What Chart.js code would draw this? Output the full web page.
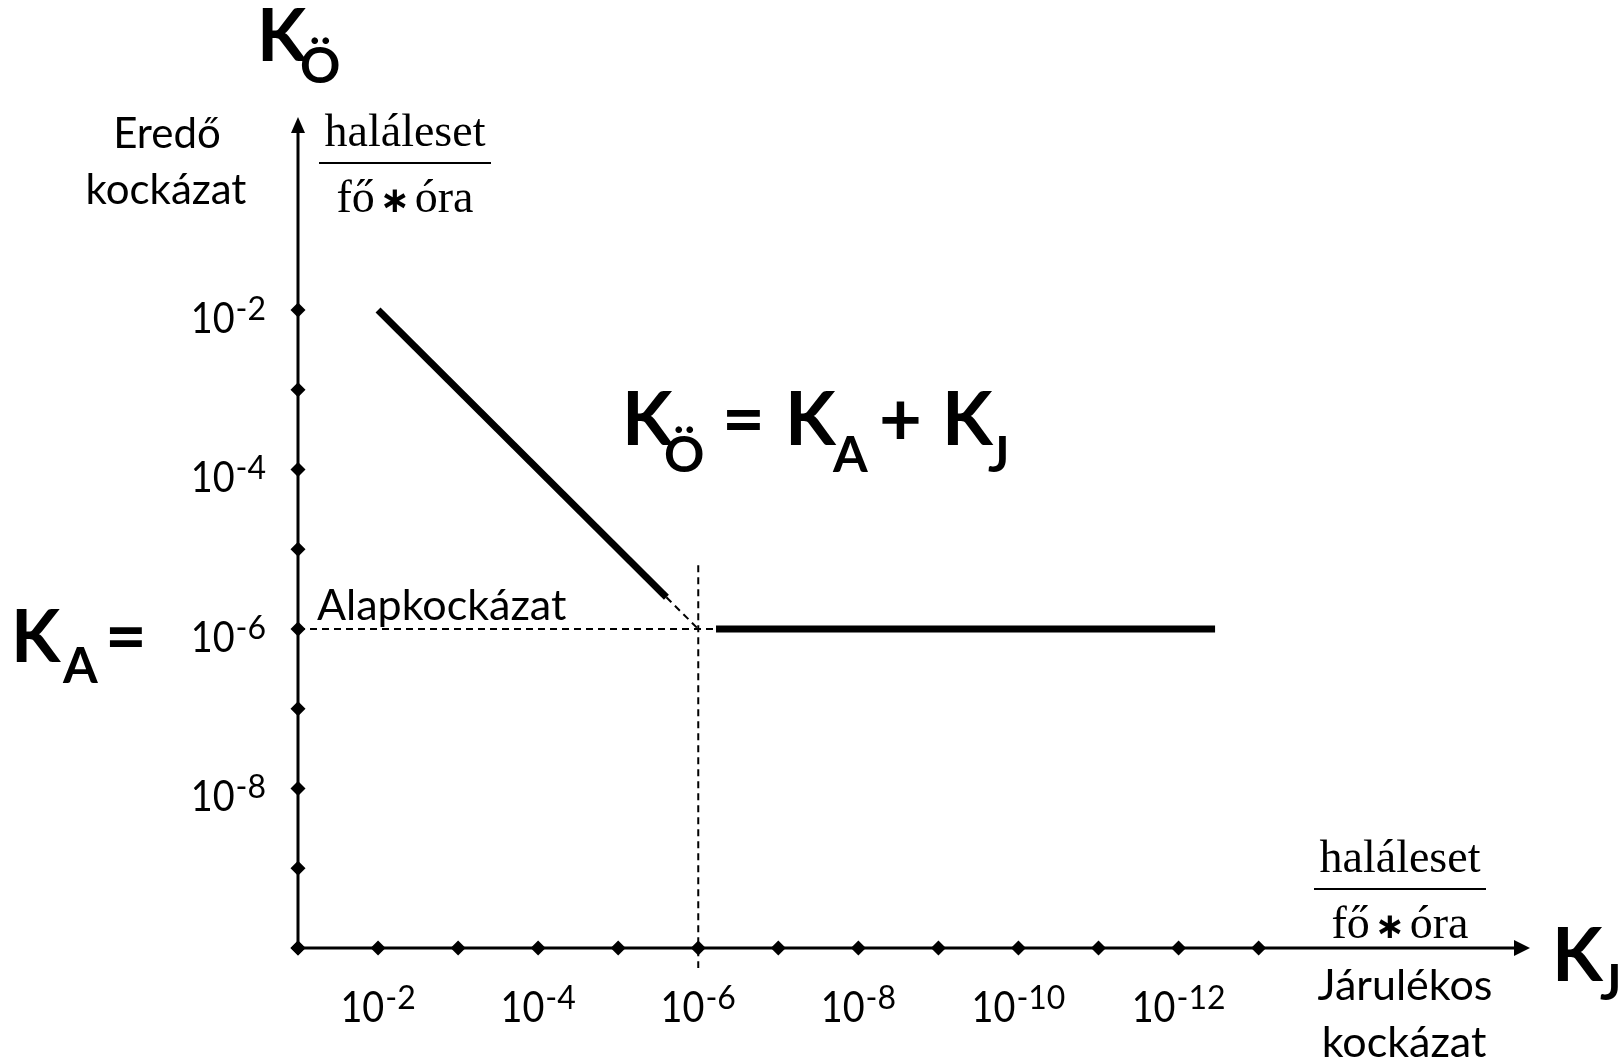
<!DOCTYPE html>
<html>
<head>
<meta charset="utf-8">
<script src="https://cdn.jsdelivr.net/npm/chart.js@4/dist/chart.umd.min.js"></script>
<style>
html, body { margin: 0; padding: 0; background: #fff; }
#doboz { width: 1622px; height: 1063px; }
</style>
</head>
<body>
<div id="doboz"><canvas id="kockazat"></canvas></div>
<script>
// decade exponents on the two axes
const xTickExp = [-1, -2, -3, -4, -5, -6, -7, -8, -9, -10, -11, -12, -13];
const yTickExp = [-2, -3, -4, -5, -6, -7, -8, -9, -10];
const xLabelExp = [-2, -4, -6, -8, -10, -12];
const yLabelExp = [-2, -4, -6, -8];

// K_A = alapkockázat
const alap = 1e-6;

// eredő kockázat, ferde szakasz (folytonos és szaggatott)
const ferdeKJ = [1e-2, 2.5e-6];
const ferdeKO = [1e-2, 2.5e-6];
const ferdeSzaggKJ = [2.5e-6, 1e-6];
const ferdeSzaggKO = [2.5e-6, 1e-6];

// eredő kockázat, vízszintes szakasz
const vizszKJ = [6e-7, 3.5e-13];
const vizszKO = [alap, alap];

// segédvonalak
const alapVonalKJ = [1e-1, 6e-7];
const fuggKJ = [1e-6, 1e-6];
const fuggKO = [6.3e-6, 5.6e-11];

const pts = (xs, ys) => xs.map((x, i) => ({ x: x, y: ys[i] }));

const axisPlugin = {
  id: "tengelyek",
  beforeDatasetsDraw(chart) {
    const { ctx, chartArea: a } = chart;
    ctx.save();
    ctx.strokeStyle = "#000";
    ctx.fillStyle = "#000";
    ctx.lineWidth = 3;
    ctx.beginPath();
    ctx.moveTo(a.left, a.bottom);
    ctx.lineTo(a.left, a.top + 14);
    ctx.moveTo(a.left, a.bottom);
    ctx.lineTo(a.right - 14, a.bottom);
    ctx.stroke();
    // nyílhegyek
    ctx.beginPath();
    ctx.moveTo(a.left, a.top);
    ctx.lineTo(a.left - 7, a.top + 16);
    ctx.lineTo(a.left + 7, a.top + 16);
    ctx.closePath();
    ctx.fill();
    ctx.beginPath();
    ctx.moveTo(a.right, a.bottom);
    ctx.lineTo(a.right - 16, a.bottom - 8);
    ctx.lineTo(a.right - 16, a.bottom + 8);
    ctx.closePath();
    ctx.fill();
    ctx.restore();
  },
  afterDraw(chart) {
    const { ctx, chartArea: a } = chart;
    const xs = chart.scales.x, ys = chart.scales.y;
    ctx.save();
    ctx.fillStyle = "#000";
    ctx.textBaseline = "alphabetic";

    // text with its ink starting at inkLeft
    const ink = (s, inkLeft, base, font, sx) => {
      sx = sx || 1;
      ctx.font = font;
      ctx.textAlign = "left";
      const m = ctx.measureText(s);
      ctx.save();
      ctx.translate(inkLeft + m.actualBoundingBoxLeft * sx, base);
      ctx.scale(sx, 1);
      ctx.fillText(s, 0, 0);
      ctx.restore();
    };
    const mid = (s, cx, base, font) => {
      ctx.font = font;
      ctx.textAlign = "center";
      ctx.fillText(s, cx, base);
    };

    // 10^n tick labels
    const fMain = "42px Lato", fSup = "32px Lato", sxMain = 0.9;
    const pow = (e, x, base, align) => {
      ctx.font = fMain;
      const w1 = ctx.measureText("10").width * sxMain;
      ctx.font = fSup;
      const sup = "-" + Math.abs(e);
      const w2 = ctx.measureText(sup).width;
      const w = w1 + 1 + w2;
      const x0 = align === "right" ? x - w : x - w / 2;
      ctx.textAlign = "left";
      ctx.save();
      ctx.font = fMain;
      ctx.translate(x0, base);
      ctx.scale(sxMain, 1);
      ctx.fillText("10", 0, 0);
      ctx.restore();
      ctx.font = fSup;
      ctx.fillText(sup, x0 + w1 + 1, base - 13);
    };
    xLabelExp.forEach(e => pow(e, xs.getPixelForValue(Math.pow(10, e)), a.bottom + 74, "center"));
    yLabelExp.forEach(e => pow(e, a.left - 32, ys.getPixelForValue(Math.pow(10, e)) + 23, "right"));

    // axis captions
    mid("Eredő", 167, 148, "42px Lato");
    mid("kockázat", 166, 204, "42px Lato");
    mid("Járulékos", 1405, 1000, "43px Lato");
    mid("kockázat", 1404, 1057, "43px Lato");
    ink("Alapkockázat", 317, 620, "43px Lato");

    // mértékegység törtek
    const tort = (cx, base) => {
      mid("haláleset", cx, base, "46px 'Liberation Serif'");
      ctx.fillRect(cx - 86, base + 16, 172, 2);
      ctx.font = "46px 'Liberation Serif'";
      const wf = ctx.measureText("fő").width;
      const wo = ctx.measureText("óra").width;
      const ws = 26;
      const tot = wf + ws + wo + 14;
      let x = cx - tot / 2;
      ctx.textAlign = "left";
      ctx.fillText("fő", x, base + 66);
      ctx.font = "bold 36px 'DejaVu Sans'";
      ctx.textAlign = "center";
      ctx.fillText("\u2217", x + wf + 7 + ws / 2, base + 66);
      ctx.font = "46px 'Liberation Serif'";
      ctx.textAlign = "left";
      ctx.fillText("óra", x + wf + ws + 14, base + 66);
    };
    tort(405, 146);
    tort(1400, 872);

    // képletek
    const B = n => "bold " + n + "px Lato";
    ink("K", 262, 61, B(72));
    ink("Ö", 301, 83, B(50));

    ink("K", 627, 445, B(74));
    ink("Ö", 665, 472, B(50));
    ink("=", 727, 445, B(74));
    ink("K", 790, 445, B(74));
    ink("A", 832, 472, B(50));
    ink("+", 882, 445, B(74));
    ink("K", 947, 445, B(74));
    ink("J", 988, 472, B(50));

    ink("K", 16, 662, B(72));
    ink("A", 62, 683, B(50));
    ink("=", 109, 662, B(72));

    ink("K", 1557, 981, B(74));
    ink("J", 1600, 1000, B(50));
    ctx.restore();
  }
};

const vonal = (xs, ys, w, dash) => ({
  data: pts(xs, ys),
  showLine: true,
  borderColor: "#000",
  borderWidth: w,
  borderDash: dash || [],
  borderCapStyle: "butt",
  pointRadius: 0,
  clip: false
});

const gyemant = data => ({
  data: data,
  showLine: false,
  pointStyle: "rectRot",
  pointRadius: 7.5,
  pointBackgroundColor: "#000",
  pointBorderWidth: 0,
  clip: false
});

new Chart(document.getElementById("kockazat"), {
  type: "scatter",
  data: {
    datasets: [
      vonal(alapVonalKJ, [alap, alap], 2, [7, 5]),
      vonal(fuggKJ, fuggKO, 2, [7, 5]),
      vonal(ferdeSzaggKJ, ferdeSzaggKO, 2, [7, 5]),
      vonal(ferdeKJ, ferdeKO, 7),
      vonal(vizszKJ, vizszKO, 7),
      gyemant(xTickExp.map(e => ({ x: Math.pow(10, e), y: 1e-10 }))),
      gyemant(yTickExp.map(e => ({ x: 1e-1, y: Math.pow(10, e) })))
    ]
  },
  options: {
    responsive: true,
    maintainAspectRatio: false,
    animation: false,
    events: [],
    layout: { padding: { left: 298, right: 92, top: 117, bottom: 115 } },
    scales: {
      x: { type: "logarithmic", reverse: true, bounds: "data", min: Math.pow(10, -16.39), max: 1e-1, display: false },
      y: { type: "logarithmic", bounds: "data", min: 1e-10, max: Math.pow(10, 0.42), display: false }
    },
    plugins: { legend: { display: false }, tooltip: { enabled: false } }
  },
  plugins: [axisPlugin]
});
</script>
</body>
</html>
